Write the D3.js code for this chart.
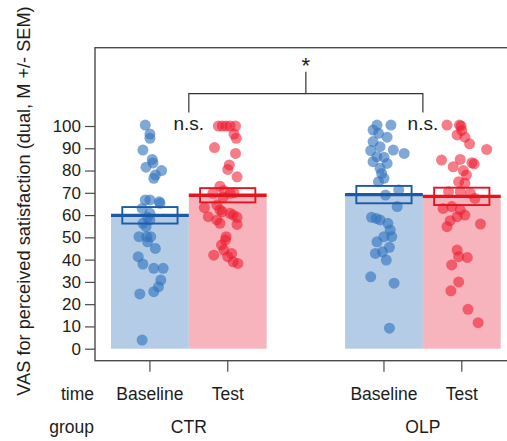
<!DOCTYPE html>
<html>
<head>
<meta charset="utf-8">
<script src="https://cdn.jsdelivr.net/npm/d3@7"></script>
<style>
  html, body { margin: 0; padding: 0; background: #fff; }
  svg { display: block; font-family: "Liberation Sans", Arial, sans-serif; }
</style>
</head>
<body>
<svg id="chart" width="507" height="441"></svg>
<script>
// ---------------- data ----------------
const groups = ["CTR", "OLP"];
const times = ["Baseline", "Test"];
const yTicks = [0, 10, 20, 30, 40, 50, 60, 70, 80, 90, 100];
const yTitle = "VAS for perceived satisfaction (dual, M +/- SEM)";

// means and SEM, order: CTR-Baseline, CTR-Test, OLP-Baseline, OLP-Test
const meanValues = [59.9, 68.9, 69.2, 68.4];
const semValues = [3.7, 3.2, 3.9, 3.9];

// individual values and their horizontal jitter (fraction of bar width)
const ctrBaseline = [100.4, 96.4, 94.5, 89.2, 85, 83.4, 81.5, 80, 78, 76.5, 66.8, 66.8, 66, 65.3, 63, 60.8, 59, 57.8, 56.3, 54.8, 50.3, 50.3, 50.3, 48, 45, 41.3, 38, 36.1, 36.1, 30.8, 27.8, 25.6, 24.6, 3.9];
const ctrBaselineJitter = [-0.06, 0, 0, -0.09, 0.03, 0.04, -0.05, 0.15, 0.07, 0.05, -0.06, 0, 0.12, 0.13, -0.10, 0, -0.03, 0, -0.09, -0.05, -0.14, -0.04, 0.01, -0.03, 0.07, -0.15, -0.09, 0.05, 0.17, 0.14, 0.11, 0.05, -0.13, -0.10];

const ctrTest = [100, 100, 100, 100, 100, 96.4, 94.5, 90.3, 87.7, 82.5, 80.5, 77.2, 73, 71, 69.8, 69.8, 70, 68, 64.5, 63.3, 62.3, 61.5, 60.8, 60, 59.3, 59, 57.8, 56.3, 55.8, 50.3, 48.8, 46.6, 44.3, 42.8, 42, 41.3, 39, 38.3];
const ctrTestJitter = [-0.12, -0.07, -0.02, 0.03, 0.10, 0.08, 0.11, -0.17, 0.10, 0.02, 0, 0.12, -0.10, -0.05, -0.19, 0.03, 0.08, -0.06, -0.14, -0.30, -0.10, -0.07, 0.03, 0.07, -0.25, 0.12, -0.14, -0.10, 0.12, -0.02, -0.03, -0.08, -0.05, 0.05, -0.18, 0, 0.07, 0.13];

const olpBaseline = [100.4, 100.4, 98.2, 96.7, 95, 93, 90.7, 89.2, 89, 87.7, 86.2, 86, 84, 83.2, 81, 78.7, 76.5, 75, 71.3, 69, 63.8, 59, 58.5, 57.8, 56.3, 53.3, 50.3, 50.3, 48, 45.5, 43.5, 42.8, 39.8, 32.3, 29.4, 9.2];
const olpBaselineJitter = [-0.09, 0.09, -0.14, -0.07, 0.04, -0.14, -0.05, 0.12, -0.17, 0.26, -0.09, 0, -0.14, 0.04, -0.05, -0.03, 0, -0.07, 0.19, 0.02, 0.17, -0.16, -0.10, -0.05, 0.05, 0.08, 0, 0.10, -0.09, 0.07, -0.02, -0.11, 0.03, -0.17, 0.13, 0.07];

const olpTest = [100.4, 100.4, 100, 98, 96, 95, 92, 89.5, 84.7, 85, 83.5, 83, 81.7, 80, 78, 75, 74.3, 70.5, 70.5, 69.8, 67.5, 63.8, 63, 62.3, 60, 59.3, 57.5, 56, 54.8, 44.3, 41.3, 41, 37.6, 30, 26, 17.7, 11.7];
const olpTestJitter = [-0.19, -0.03, -0.01, 0, -0.06, 0.04, 0.10, 0.32, -0.26, -0.02, 0.13, 0.16, -0.11, 0.02, 0.06, -0.04, 0.04, -0.17, -0.02, 0.11, 0.17, -0.13, -0.24, -0.02, 0.04, -0.06, -0.15, 0.24, -0.19, -0.06, -0.04, 0.07, -0.13, -0.04, -0.14, 0.08, 0.21];

const pointValues = [ctrBaseline, ctrTest, olpBaseline, olpTest];
const pointJitter = [ctrBaselineJitter, ctrTestJitter, olpBaselineJitter, olpTestJitter];

const comparisonLabel = "*";
const withinLabel = "n.s.";

// ---------------- build table ----------------
const cells = [];
groups.forEach((g, gi) => times.forEach((t, ti) => {
  const i = gi * 2 + ti;
  cells.push({ group: g, time: t, mean: meanValues[i], sem: semValues[i],
    points: pointValues[i].map((v, k) => ({ v, j: pointJitter[i][k] })) });
}));

// ---------------- styles ----------------
const fillColor = { Baseline: "#b4cce6", Test: "#f7b4bc" };
const lineColor = { Baseline: "#1d5aa6", Test: "#e5141f" };
const dotColor = { Baseline: "rgba(50,114,190,0.62)", Test: "rgba(238,24,42,0.56)" };
const axisColor = "#4a4a4a";
const textColor = "#1c1c1c";

// ---------------- scales ----------------
const svg = d3.select("#chart");
const frame = { left: 95, top: 47.7, bottom: 360.7, right: 530 };

const y = d3.scaleLinear().domain([0, 100]).range([348.7, 126]);
const xGroup = d3.scaleBand().domain(groups).range([111, 500.7]).paddingInner(0.335).paddingOuter(0);
const xTime = d3.scaleBand().domain(times).range([0, xGroup.bandwidth()]).padding(0);
const barX = d => xGroup(d.group) + xTime(d.time);
const barCx = d => barX(d) + xTime.bandwidth() / 2;

// ---------------- bars ----------------
svg.append("g").selectAll("rect").data(cells).join("rect")
  .attr("x", barX)
  .attr("width", xTime.bandwidth())
  .attr("y", d => y(d.mean))
  .attr("height", d => y(0) - y(d.mean))
  .attr("fill", d => fillColor[d.time]);

// ---------------- points ----------------
const pg = svg.append("g");
cells.forEach(c => {
  pg.append("g").selectAll("circle").data(c.points).join("circle")
    .attr("cx", p => barCx(c) + p.j * xTime.bandwidth())
    .attr("cy", p => y(p.v))
    .attr("r", 5.5)
    .attr("fill", dotColor[c.time]);
});

// ---------------- SEM boxes & mean lines ----------------
const boxW = xTime.bandwidth() * 0.71;
svg.append("g").selectAll("rect").data(cells).join("rect")
  .attr("x", d => barCx(d) - boxW / 2)
  .attr("width", boxW)
  .attr("y", d => y(d.mean + d.sem))
  .attr("height", d => y(d.mean - d.sem) - y(d.mean + d.sem))
  .attr("fill", "none")
  .attr("stroke", d => lineColor[d.time])
  .attr("stroke-width", 1.9);

svg.append("g").selectAll("line").data(cells).join("line")
  .attr("x1", barX)
  .attr("x2", d => barX(d) + xTime.bandwidth())
  .attr("y1", d => y(d.mean))
  .attr("y2", d => y(d.mean))
  .attr("stroke", d => lineColor[d.time])
  .attr("stroke-width", 3.3);

// ---------------- frame ----------------
svg.append("rect")
  .attr("x", frame.left).attr("y", frame.top)
  .attr("width", frame.right - frame.left).attr("height", frame.bottom - frame.top)
  .attr("fill", "none").attr("stroke", axisColor).attr("stroke-width", 1.4);

// ---------------- y axis ----------------
const yAxis = d3.axisLeft(y).tickValues(yTicks).tickSize(10).tickPadding(4);
const yg = svg.append("g").attr("transform", `translate(${frame.left},0)`).call(yAxis);
yg.select(".domain").remove();
yg.selectAll(".tick line").attr("stroke", axisColor).attr("stroke-width", 1.2);
yg.selectAll(".tick text").attr("fill", textColor)
  .style("font-size", "17px").style("font-family", "Liberation Sans, Arial, sans-serif");

// ---------------- x axis ticks ----------------
const xTickG = svg.append("g");
xTickG.selectAll("line").data(cells).join("line")
  .attr("x1", barCx).attr("x2", barCx)
  .attr("y1", frame.bottom).attr("y2", frame.bottom + 11)
  .attr("stroke", axisColor).attr("stroke-width", 1.2);

const labelFont = "17.5px";
xTickG.selectAll("text.time").data(cells).join("text").attr("class", "time")
  .attr("x", barCx).attr("y", 400)
  .attr("text-anchor", "middle").attr("fill", textColor).style("font-size", labelFont)
  .text(d => d.time);
xTickG.selectAll("text.group").data(groups).join("text").attr("class", "group")
  .attr("x", g => xGroup(g) + xGroup.bandwidth() / 2).attr("y", 432.5)
  .attr("text-anchor", "middle").attr("fill", textColor).style("font-size", labelFont)
  .text(g => g);
svg.append("text").attr("x", 94).attr("y", 400).attr("text-anchor", "end")
  .attr("fill", textColor).style("font-size", labelFont).text("time");
svg.append("text").attr("x", 94).attr("y", 432.5).attr("text-anchor", "end")
  .attr("fill", textColor).style("font-size", labelFont).text("group");

// ---------------- y title ----------------
svg.append("text")
  .attr("transform", "translate(30,201) rotate(-90)")
  .attr("text-anchor", "middle").attr("fill", textColor)
  .style("font-size", "18.2px").text(yTitle);

// ---------------- significance bracket ----------------
const gc = g => xGroup(g) + xGroup.bandwidth() / 2;
const bracketY = y(114.5), legY = y(106.1), topY = y(124.4);
const bg = svg.append("g").attr("stroke", "#333").attr("stroke-width", 1.2).attr("fill", "none");
bg.append("path").attr("d",
  `M${gc("CTR")},${legY}V${bracketY}H${gc("OLP")}V${legY}`);
bg.append("line").attr("x1", (gc("CTR") + gc("OLP")) / 2).attr("x2", (gc("CTR") + gc("OLP")) / 2)
  .attr("y1", bracketY).attr("y2", topY);
svg.append("text").attr("x", (gc("CTR") + gc("OLP")) / 2).attr("y", 72.5)
  .attr("text-anchor", "middle").attr("fill", textColor).style("font-size", "22px")
  .text(comparisonLabel);
svg.selectAll("text.ns").data(groups).join("text").attr("class", "ns")
  .attr("x", gc).attr("y", y(98.2))
  .attr("text-anchor", "middle").attr("fill", textColor).style("font-size", "19px")
  .text(withinLabel);
</script>
</body>
</html>
